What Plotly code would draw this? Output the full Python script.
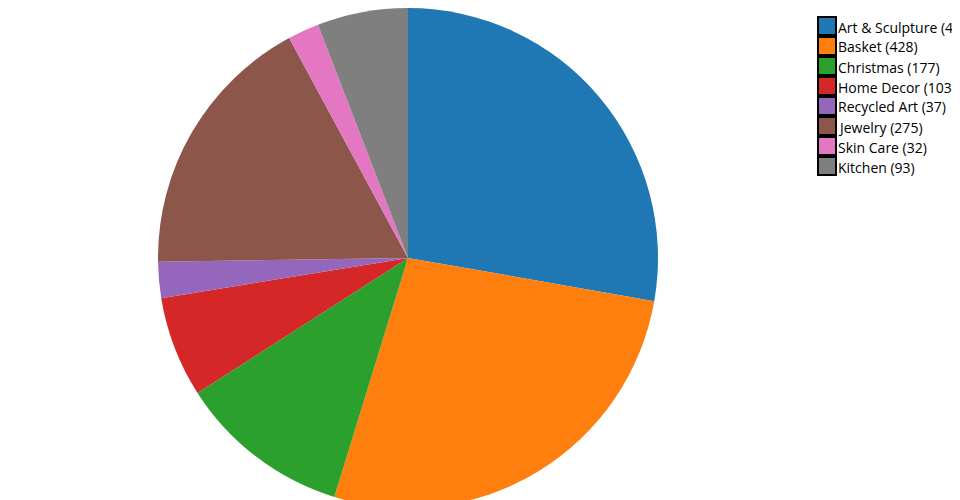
import plotly.graph_objects as go

categories = ["Art & Sculpture", "Basket", "Christmas", "Home Decor",
              "Recycled Art", "Jewelry", "Skin Care", "Kitchen"]
values = [440, 428, 177, 103, 37, 275, 32, 93]
colors = ["#1f77b4", "#ff7f0e", "#2ca02c", "#d62728",
          "#9467bd", "#8c564b", "#e377c2", "#7f7f7f"]

W, H = 960, 500
T, B = 0, 0
PH = H - T - B

def px_x(x):
    return x / W

def px_y(y):
    return 1 - (y - T) / PH

cx, r = 400, 250
fig = go.Figure(go.Pie(
    labels=categories,
    values=values,
    sort=False,
    direction="clockwise",
    rotation=0,
    textinfo="none",
    hoverinfo="label+value",
    marker=dict(colors=colors, line=dict(width=0)),
    showlegend=False,
    domain=dict(x=[px_x(cx - r), px_x(cx + r)], y=[0, 1]),
))

shapes = []
annotations = []
for i, (c, v, col) in enumerate(zip(categories, values, colors)):
    y0 = 9 + 20 * i
    shapes.append(dict(type="rect", xref="paper", yref="paper",
                       x0=px_x(810), x1=px_x(828),
                       y0=px_y(y0), y1=px_y(y0 + 18),
                       fillcolor=col, line=dict(color="black", width=2)))
    annotations.append(dict(xref="paper", yref="paper",
                            x=px_x(829), y=px_y(y0 + 10),
                            xanchor="left", yanchor="middle",
                            text=f"{c} ({v})", showarrow=False,
                            width=115, align="left", borderpad=0,
                            font=dict(family="Open Sans", size=14, color="black")))

fig.update_layout(
    width=W, height=H,
    margin=dict(l=0, r=0, t=T, b=B, pad=0),
    paper_bgcolor="white", plot_bgcolor="white",
    shapes=shapes, annotations=annotations,
)
fig.write_html("out.html")
